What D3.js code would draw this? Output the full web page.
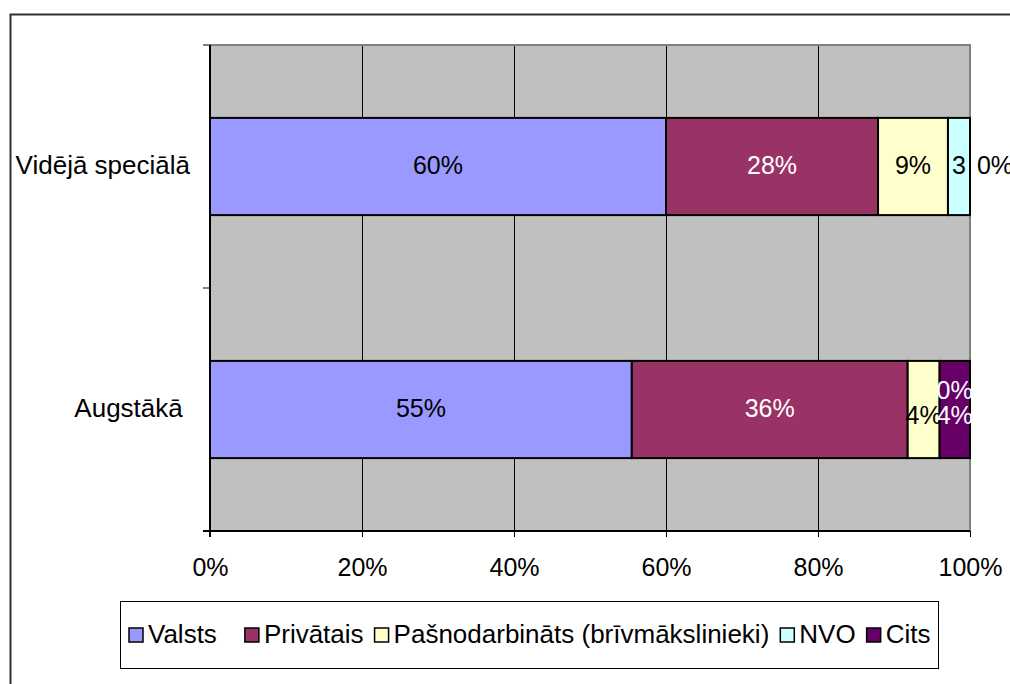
<!DOCTYPE html>
<html><head><meta charset="utf-8">
<script src="https://cdn.jsdelivr.net/npm/d3@7"></script>
<style>
html,body{margin:0;padding:0;background:#fff;}
text{font-family:"Liberation Sans",Arial,sans-serif;}
</style></head>
<body><svg id="chart" width="1010" height="684"></svg>
<script>
const categories = ["Vidējā speciālā", "Augstākā "];
const seriesNames = ["Valsts", "Privātais", "Pašnodarbināts (brīvmākslinieki)", "NVO", "Cits"];
const seriesColors = ["#9999FF", "#993366", "#FFFFCC", "#CCFFFF", "#660066"];
const valsts = [60.0, 55.5];
const privatais = [27.9, 36.3];
const pasnodarbinats = [9.2, 4.2];
const nvo = [2.9, 0.0];
const cits = [0.0, 4.0];
const labelTexts = [["60%", "28%", "9%", "3", "0%"], ["55%", "36%", "4%", "0%", "4%"]];
const tickValues = [0, 20, 40, 60, 80, 100];

const seriesValues = [valsts, privatais, pasnodarbinats, nvo, cits];
const svg = d3.select("#chart");
const fsCat = 26, fsTick = 25, fsLab = 25, fsLeg = 26;

// outer frame
svg.append("rect").attr("x", 10.5).attr("y", 14.5).attr("width", 1020).attr("height", 700)
  .attr("fill", "#fff").attr("stroke", "#303030").attr("stroke-width", 2);

const L = 210, R = 970, T = 45, B = 531;
const x = d3.scaleLinear().domain([0, 100]).range([L, R]);
const y = d3.scaleBand().domain(categories).range([T, B]).paddingInner(0.6).paddingOuter(0.3);

svg.append("rect").attr("x", L).attr("y", T).attr("width", R - L).attr("height", B - T).attr("fill", "#C0C0C0");

// gridlines
svg.append("g").selectAll("line").data(tickValues.slice(1, -1)).join("line")
  .attr("x1", d => x(d) + 0.5).attr("x2", d => x(d) + 0.5).attr("y1", T).attr("y2", B)
  .attr("stroke", "#000").attr("stroke-width", 1);

// plot border (gray top/right)
svg.append("line").attr("x1", L).attr("x2", R + 1).attr("y1", T).attr("y2", T).attr("stroke", "#808080").attr("stroke-width", 2);
svg.append("line").attr("x1", R).attr("x2", R).attr("y1", T).attr("y2", B).attr("stroke", "#808080").attr("stroke-width", 2);

// stacked bars
const stacked = categories.map((c, ci) => {
  let acc = 0;
  return seriesValues.map((vals, si) => {
    const s = { ci, si, x0: acc, x1: acc + vals[ci], v: vals[ci] };
    acc += vals[ci];
    return s;
  });
}).flat();

svg.append("g").selectAll("rect").data(stacked.filter(d => d.v > 0)).join("rect")
  .attr("x", d => x(d.x0)).attr("width", d => x(d.x1) - x(d.x0))
  .attr("y", d => y(categories[d.ci])).attr("height", y.bandwidth())
  .attr("fill", d => seriesColors[d.si]).attr("stroke", "#000").attr("stroke-width", 2);

// axes lines
svg.append("line").attr("x1", L).attr("x2", L).attr("y1", T).attr("y2", B + 6).attr("stroke", "#000").attr("stroke-width", 2);
svg.append("line").attr("x1", L - 7).attr("x2", R).attr("y1", B).attr("y2", B).attr("stroke", "#000").attr("stroke-width", 2);

// x axis
const xAxis = d3.axisBottom(x).tickValues(tickValues).tickFormat(d => d + "%").tickSize(6).tickPadding(21);
const gx = svg.append("g").attr("transform", `translate(0,${B})`).call(xAxis);
gx.select(".domain").remove();
gx.selectAll(".tick line").attr("stroke", "#000").attr("stroke-width", 1);
gx.selectAll(".tick text").attr("font-size", fsTick).attr("fill", "#000").attr("font-family", "Liberation Sans, Arial, sans-serif");

// y axis ticks (category boundaries)
const yBounds = [T, (T + B) / 2, B];
svg.append("g").selectAll("line").data(yBounds).join("line")
  .attr("x1", L - 7).attr("x2", L).attr("y1", d => d).attr("y2", d => d).attr("stroke", "#000").attr("stroke-width", 1);

// category labels
svg.append("g").selectAll("text").data(categories).join("text")
  .attr("x", 190).attr("y", d => y(d) + y.bandwidth() / 2 - 2)
  .attr("text-anchor", "end").attr("dominant-baseline", "central")
  .style("white-space", "pre").attr("font-size", fsCat).attr("fill", "#000").text(d => d);

// data labels
const darkFill = new Set([1, 4]);
svg.append("g").selectAll("text").data(stacked).join("text")
  .attr("x", d => {
    if (d.v === 0 && d.x1 >= 100) return x(100) + 25;
    if (d.v === 0) return x(d.x0) + 15;
    return (x(d.x0) + x(d.x1)) / 2;
  })
  .attr("y", d => {
    const c = y(categories[d.ci]) + y.bandwidth() / 2 - 2;
    if (d.ci === 1 && d.si >= 2) return d.v === 0 ? c - 18 : c + 7;
    return c;
  })
  .attr("text-anchor", "middle").attr("dominant-baseline", "central")
  .attr("font-size", fsLab)
  .attr("fill", d => {
    if (d.v === 0 && d.x1 >= 100) return "#000";
    if (d.v === 0) return "#fff";
    return darkFill.has(d.si) ? "#fff" : "#000";
  })
  .text(d => labelTexts[d.ci][d.si]);

// legend
const lg = svg.append("g");
lg.append("rect").attr("x", 120.5).attr("y", 601.5).attr("width", 818).attr("height", 67)
  .attr("fill", "#fff").attr("stroke", "#000").attr("stroke-width", 1);
let lx = 129;
const ly = 634;
seriesNames.forEach((n, i) => {
  lg.append("rect").attr("x", lx).attr("y", ly - 6).attr("width", 14).attr("height", 14)
    .attr("fill", seriesColors[i]).attr("stroke", "#000").attr("stroke-width", 1.5);
  const t = lg.append("text").attr("x", lx + 19).attr("y", ly).attr("dominant-baseline", "central")
    .attr("font-size", fsLeg).attr("fill", "#000").text(n);
  const w = t.node().getComputedTextLength();
  lx += 19 + w + (i === 0 ? 28 : 11);
});
</script>
</body></html>
